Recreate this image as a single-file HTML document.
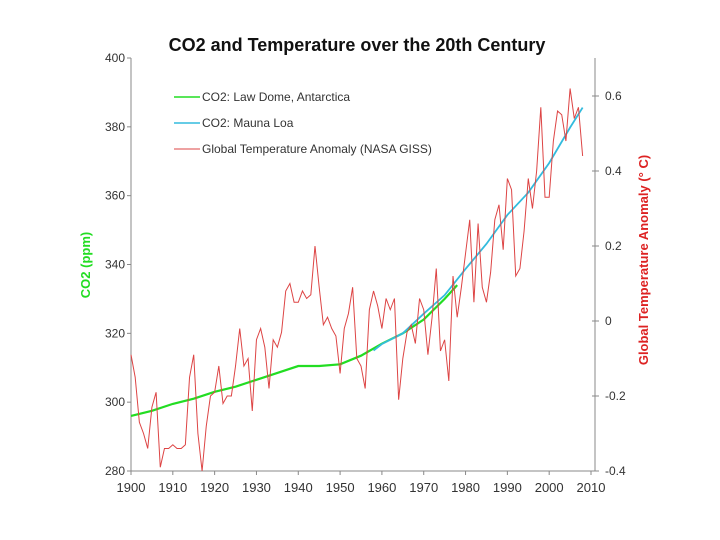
<!DOCTYPE html>
<html><head><meta charset="utf-8"><style>body{margin:0;background:#fff}svg{display:block;font-family:"Liberation Sans",sans-serif}</style></head>
<body>
<svg id="chart" width="720" height="540" viewBox="0 0 720 540">
<text x="357" y="51" text-anchor="middle" font-size="18" font-weight="bold" fill="#111">CO2 and Temperature over the 20th Century</text>
<g id="axes"></g>
<g id="series"></g>
<g font-size="12" fill="#333">
<line x1="174" y1="97" x2="200" y2="97" stroke="#22dd22" stroke-width="1.5"/><text x="202" y="101">CO2: Law Dome, Antarctica</text>
<line x1="174" y1="123" x2="200" y2="123" stroke="#33bbdd" stroke-width="1.5"/><text x="202" y="127">CO2: Mauna Loa</text>
<line x1="174" y1="149" x2="200" y2="149" stroke="#dd4444" stroke-width="1"/><text x="202" y="153">Global Temperature Anomaly (NASA GISS)</text>
</g>
<text transform="translate(90,265) rotate(-90)" text-anchor="middle" font-size="13" font-weight="bold" fill="#22dd22">CO2 (ppm)</text>
<text transform="translate(648,260) rotate(-90)" text-anchor="middle" font-size="13" font-weight="bold" fill="#dd2222">Global Temperature Anomaly (° C)</text>
</svg>
<script>
const xTicks=[1900,1910,1920,1930,1940,1950,1960,1970,1980,1990,2000,2010];
const co2Ticks=[280,300,320,340,360,380,400];
const tempTicks=[-0.4,-0.2,0,0.2,0.4,0.6];
const lawYears=[1900,1905,1910,1915,1920,1925,1930,1935,1940,1945,1950,1955,1960,1965,1970,1975,1978];
const lawCO2=[296,297.5,299.5,301,303,304.5,306.5,308.5,310.5,310.5,311,313.5,317,320,324,330,334];
const mlYears=[1958,1960,1965,1970,1975,1980,1985,1990,1995,2000,2005,2008];
const mlCO2=[315,316.9,320,325.7,331.1,338.7,346,354.4,360.9,369.5,379.8,385.6];
const tempYear0=1900;
const temps=[-0.09,-0.15,-0.27,-0.30,-0.34,-0.23,-0.19,-0.39,-0.34,-0.34,-0.33,-0.34,-0.34,-0.33,-0.15,-0.09,-0.30,-0.40,-0.28,-0.20,-0.19,-0.12,-0.22,-0.20,-0.20,-0.12,-0.02,-0.12,-0.10,-0.24,-0.05,-0.02,-0.07,-0.18,-0.05,-0.07,-0.03,0.08,0.10,0.05,0.05,0.08,0.06,0.07,0.20,0.09,-0.01,0.01,-0.02,-0.04,-0.14,-0.02,0.02,0.09,-0.10,-0.12,-0.18,0.03,0.08,0.04,-0.02,0.06,0.03,0.06,-0.21,-0.10,-0.03,-0.01,-0.06,0.06,0.03,-0.09,0.01,0.14,-0.08,-0.05,-0.16,0.12,0.01,0.09,0.18,0.27,0.05,0.26,0.09,0.05,0.13,0.27,0.31,0.19,0.38,0.35,0.12,0.14,0.24,0.38,0.30,0.40,0.57,0.33,0.33,0.48,0.56,0.55,0.48,0.62,0.54,0.57,0.44];
const X0=131,X1=591,YT=58,YB=471,RX=595;
const xs=y=>X0+(y-1900)/110*(X1-X0);
const yc=v=>YB-(v-280)/120*(YB-YT);
const yt=v=>321-v/0.2*75;
const NS='http://www.w3.org/2000/svg';
function mk(tag,at,parent){const e=document.createElementNS(NS,tag);for(const k in at)e.setAttribute(k,at[k]);parent.appendChild(e);return e;}
const ax=document.getElementById('axes'),se=document.getElementById('series');
let e=mk('line',{x1:X0,y1:YT,x2:X0,y2:YB,stroke:'#888'},ax);


e=mk('line',{x1:X0,y1:YB,x2:RX,y2:YB,stroke:'#888'},ax);


e=mk('line',{x1:RX,y1:YT,x2:RX,y2:YB,stroke:'#888'},ax);


xTicks.forEach(t=>{const x=xs(t);mk('line',{x1:x,y1:YB,x2:x,y2:YB+4,stroke:'#888'},ax);
e=mk('text',{x:x,y:YB+21,'text-anchor':'middle','font-size':13,fill:'#333'},ax);e.textContent=t;

});
co2Ticks.forEach(t=>{const y=yc(t);mk('line',{x1:X0-4,y1:y,x2:X0,y2:y,stroke:'#888'},ax);
e=mk('text',{x:X0-6,y:y+4,'text-anchor':'end','font-size':12,fill:'#333'},ax);e.textContent=t;

});
tempTicks.forEach(t=>{const y=yt(t);mk('line',{x1:RX-3,y1:y,x2:RX+4,y2:y,stroke:'#888'},ax);
e=mk('text',{x:RX+10,y:y+4,'font-size':12,fill:'#333'},ax);e.textContent=(t===0?'0':t.toFixed(1));

});
e=mk('polyline',{points:lawYears.map((y,i)=>xs(y)+','+yc(lawCO2[i])).join(' '),fill:'none',stroke:'#22dd22','stroke-width':2.2},se);


e=mk('polyline',{points:mlYears.map((y,i)=>xs(y)+','+yc(mlCO2[i])).join(' '),fill:'none',stroke:'#33bbdd','stroke-width':1.8},se);


e=mk('polyline',{points:temps.map((v,i)=>xs(tempYear0+i)+','+yt(v)).join(' '),fill:'none',stroke:'#dd4444','stroke-width':1},se);


</script>
</body></html>
